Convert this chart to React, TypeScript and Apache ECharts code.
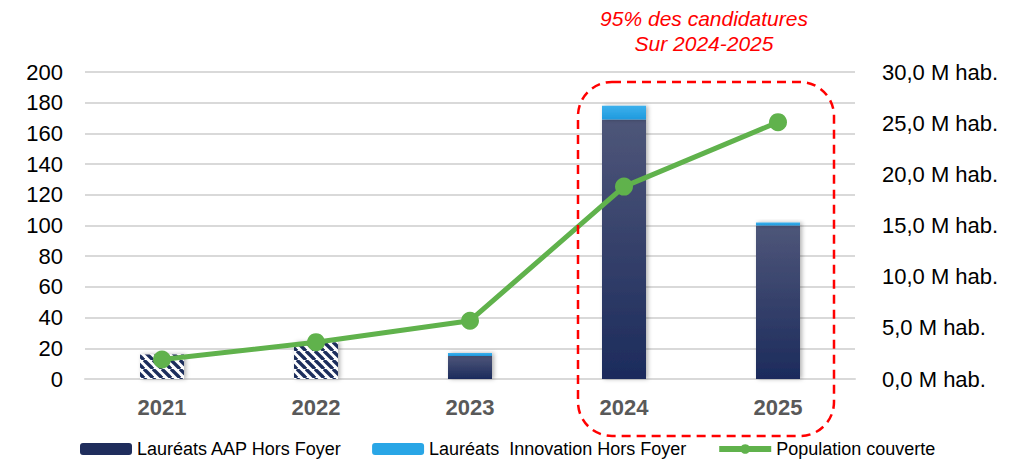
import React, { useEffect, useRef } from "react";
import * as echarts from "echarts";

const years = ["2021", "2022", "2023", "2024", "2025"];
const aapValues = [16, 24, 15, 169, 100];
const innovationValues = [0, 0, 2, 9, 2];
const population = [1.9, 3.6, 5.7, 18.8, 25.1];
const hatchedYears = ["2021", "2022"];
const leftTicks = { min: 0, max: 200, interval: 20 };
const rightTicks = { min: 0, max: 30, interval: 5 };

const FONT = "'Liberation Sans', Arial, sans-serif";

function makeHatch(): HTMLCanvasElement {
  const s = 9;
  const c = document.createElement("canvas");
  c.width = s;
  c.height = s;
  const ctx = c.getContext("2d")!;
  ctx.fillStyle = "#ffffff";
  ctx.fillRect(0, 0, s, s);
  ctx.strokeStyle = "#1f2d5c";
  ctx.lineWidth = 3.4;
  for (let k = -1; k <= 1; k++) {
    ctx.beginPath();
    ctx.moveTo(k * s, 0);
    ctx.lineTo(k * s + s, s);
    ctx.stroke();
  }
  return c;
}

export default function App() {
  const ref = useRef<HTMLDivElement>(null);

  useEffect(() => {
    if (!ref.current) return;
    const chart = echarts.init(ref.current, null, { renderer: "svg" });

    const darkGrad = new echarts.graphic.LinearGradient(0, 0, 0, 1, [
      { offset: 0, color: "#4e5679" },
      { offset: 1, color: "#1c2b5c" },
    ]);
    const blueGrad = new echarts.graphic.LinearGradient(0, 0, 0, 1, [
      { offset: 0, color: "#3cb0ec" },
      { offset: 1, color: "#1f9ade" },
    ]);
    const shadow = {
      shadowBlur: 4,
      shadowColor: "rgba(0,0,0,0.3)",
      shadowOffsetX: 2,
      shadowOffsetY: 0,
    };
    const hatch = makeHatch();

    const aapData = years.map((y, i) => {
      if (hatchedYears.includes(y)) {
        return {
          value: aapValues[i],
          itemStyle: {
            color: { image: hatch, repeat: "repeat" },
          },
        };
      }
      return { value: aapValues[i] };
    });

    chart.setOption({
      animation: false,
      textStyle: { fontFamily: FONT },
      grid: { left: 85, right: 175, top: 72, bottom: 81 },
      legend: {
        left: 80,
        top: 440,
        padding: 0,
        itemWidth: 52,
        itemHeight: 12,
        itemGap: 30,
        textStyle: { fontSize: 18, color: "#000", fontFamily: FONT },
        data: [
          { name: "Lauréats AAP Hors Foyer", itemStyle: { color: "#1f2d5c" } },
          { name: "Lauréats  Innovation Hors Foyer", itemStyle: { color: "#29a6e6" } },
          { name: "Population couverte", lineStyle: { width: 6 } },
        ],
      },
      xAxis: {
        type: "category",
        data: years,
        axisTick: { show: false },
        axisLine: { lineStyle: { color: "#d9d9d9", width: 2 } },
        axisLabel: {
          fontSize: 22,
          fontWeight: "bold",
          color: "#595959",
          margin: 17,
          fontFamily: FONT,
        },
      },
      yAxis: [
        {
          type: "value",
          min: leftTicks.min,
          max: leftTicks.max,
          interval: leftTicks.interval,
          axisLabel: { fontSize: 22, color: "#000", margin: 22, fontFamily: FONT },
          splitLine: { lineStyle: { color: "#d9d9d9", width: 2 } },
          axisLine: { show: false },
          axisTick: { show: false },
        },
        {
          type: "value",
          min: rightTicks.min,
          max: rightTicks.max,
          interval: rightTicks.interval,
          position: "right",
          axisLabel: {
            fontSize: 22,
            color: "#000",
            margin: 27,
            fontFamily: FONT,
            formatter: (v: number) => v.toFixed(1).replace(".", ",") + " M hab.",
          },
          splitLine: { show: false },
          axisLine: { show: false },
          axisTick: { show: false },
        },
      ],
      series: [
        {
          name: "Lauréats AAP Hors Foyer",
          type: "bar",
          stack: "total",
          barWidth: 44,
          itemStyle: { color: darkGrad, ...shadow },
          data: aapData,
          z: 2,
        },
        {
          name: "Lauréats  Innovation Hors Foyer",
          type: "bar",
          stack: "total",
          barWidth: 44,
          itemStyle: { color: blueGrad, ...shadow },
          data: innovationValues,
          z: 2,
        },
        {
          name: "Population couverte",
          type: "line",
          yAxisIndex: 1,
          data: population,
          symbol: "circle",
          symbolSize: 18,
          lineStyle: { color: "#60b24c", width: 5 },
          itemStyle: { color: "#60b24c" },
          z: 5,
        },
      ],
      graphic: [
        {
          type: "rect",
          shape: { x: 578, y: 82, width: 256, height: 354, r: 34 },
          style: { fill: "none", stroke: "#ff0000", lineWidth: 2.5, lineDash: [9, 6] },
          z: 10,
        },
        {
          type: "text",
          x: 704,
          y: 18,
          style: {
            text: "95% des candidatures",
            fill: "#ff0000",
            font: `italic 21px ${FONT}`,
            align: "center",
            verticalAlign: "middle",
          },
        },
        {
          type: "text",
          x: 704,
          y: 43,
          style: {
            text: "Sur 2024-2025",
            fill: "#ff0000",
            font: `italic 21px ${FONT}`,
            align: "center",
            verticalAlign: "middle",
          },
        },
      ],
    });

    return () => chart.dispose();
  }, []);

  return (
    <div
      ref={ref}
      style={{ position: "fixed", left: 0, top: 0, width: 1030, height: 460, background: "#fff" }}
    />
  );
}
